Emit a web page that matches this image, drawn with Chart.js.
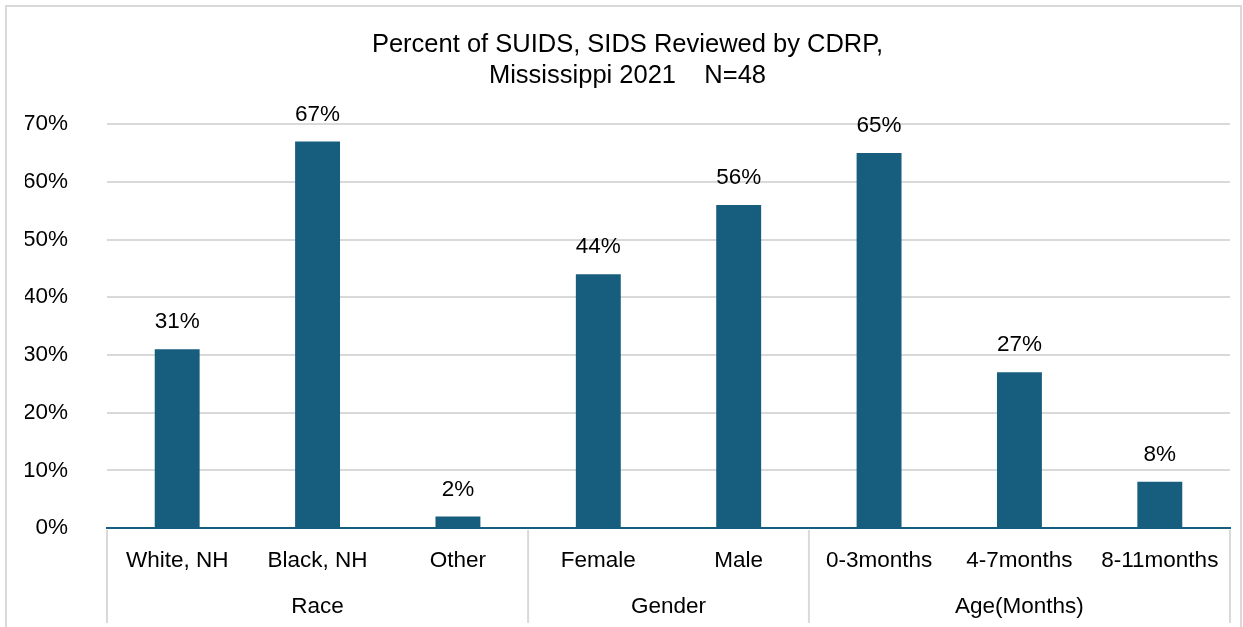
<!DOCTYPE html>
<html>
<head>
<meta charset="utf-8">
<script src="https://cdn.jsdelivr.net/npm/chart.js@4/dist/chart.umd.min.js"></script>
<style>
  html, body { margin: 0; padding: 0; background: #fff; }
  #wrap { width: 1243px; height: 627px; }
</style>
</head>
<body>
<div id="wrap"><canvas id="suids"></canvas></div>
<script>
let categories = ['White, NH', 'Black, NH', 'Other', 'Female', 'Male', '0-3months', '4-7months', '8-11months'];
let percents = [31, 67, 2, 44, 56, 65, 27, 8];
let groupNames = ['Race', 'Gender', 'Age(Months)'];
let groupSizes = [3, 2, 3];
let yTicks = [0, 10, 20, 30, 40, 50, 60, 70];

const barColor = '#175e7e';
const lineGray = '#d9d9d9';
const fontFamily = '"Liberation Sans", Arial, sans-serif';
const textSize = 22.5;

// light frame round the whole chart
const frame = {
  id: 'frame',
  beforeDraw(chart) {
    let c = chart.ctx;
    c.save();
    c.strokeStyle = lineGray;
    c.lineWidth = 2;
    c.beginPath();
    c.moveTo(6, 630);
    c.lineTo(6, 6);
    c.lineTo(1241, 6);
    c.lineTo(1241, 630);
    c.stroke();
    c.restore();
  }
};

// percent value over each bar
const valueLabels = {
  id: 'valueLabels',
  afterDatasetsDraw(chart) {
    let c = chart.ctx;
    let meta = chart.getDatasetMeta(0);
    c.save();
    c.font = textSize + 'px ' + fontFamily;
    c.fillStyle = '#000';
    c.textAlign = 'center';
    c.textBaseline = 'middle';
    meta.data.forEach((bar, i) => {
      c.fillText(percents[i] + '%', bar.x, bar.y - 27);
    });
    c.restore();
  }
};

// second row of the category axis: group names and dividers
const groupAxis = {
  id: 'groupAxis',
  afterDraw(chart) {
    let c = chart.ctx;
    let x = chart.scales.x;
    let area = chart.chartArea;
    let half = (x.getPixelForValue(1) - x.getPixelForValue(0)) / 2;
    c.save();
    c.strokeStyle = lineGray;
    c.lineWidth = 2;
    c.font = textSize + 'px ' + fontFamily;
    c.fillStyle = '#000';
    c.textAlign = 'center';
    c.textBaseline = 'middle';
    let start = 0;
    let edges = [x.getPixelForValue(0) - half];
    groupNames.forEach((name, g) => {
      let end = start + groupSizes[g] - 1;
      let left = x.getPixelForValue(start) - half;
      let right = x.getPixelForValue(end) + half;
      edges.push(right);
      c.fillText(name, (left + right) / 2, 607);
      start = end + 1;
    });
    edges.forEach(px => {
      c.beginPath();
      c.moveTo(px, area.bottom + 2);
      c.lineTo(px, 623);
      c.stroke();
    });
    c.restore();
  }
};

new Chart(document.getElementById('suids'), {
  type: 'bar',
  data: {
    labels: categories,
    datasets: [{
      data: percents,
      backgroundColor: barColor,
      barPercentage: 0.64,
      categoryPercentage: 0.5
    }]
  },
  options: {
    responsive: true,
    maintainAspectRatio: false,
    animation: false,
    layout: { padding: { top: 5, left: 25, right: 13, bottom: 0 } },
    plugins: {
      legend: { display: false },
      tooltip: { enabled: false },
      title: {
        display: true,
        text: ['Percent of SUIDS, SIDS Reviewed by CDRP,', 'Mississippi 2021    N=48'],
        color: '#000',
        font: { family: fontFamily, size: 25.5, weight: 'normal', lineHeight: 1.2 },
        padding: { top: 25, bottom: 33 }
      }
    },
    scales: {
      x: {
        grid: { display: false, drawTicks: false },
        border: { color: barColor, width: 2 },
        ticks: {
          color: '#000',
          font: { family: fontFamily, size: textSize },
          padding: 19,
          maxRotation: 0,
          autoSkip: false
        },
        afterFit(scale) { scale.height = 99; }
      },
      y: {
        min: 0,
        max: 70,
        grid: { color: lineGray, lineWidth: 2, drawTicks: false },
        border: { display: false },
        afterBuildTicks(scale) { scale.ticks = yTicks.map(v => ({ value: v })); },
        ticks: {
          color: '#000',
          font: { family: fontFamily, size: textSize },
          padding: 39,
          callback: v => v + '%'
        },
        afterFit(scale) { scale.width = 82; }
      }
    }
  },
  plugins: [frame, valueLabels, groupAxis]
});
</script>
</body>
</html>
